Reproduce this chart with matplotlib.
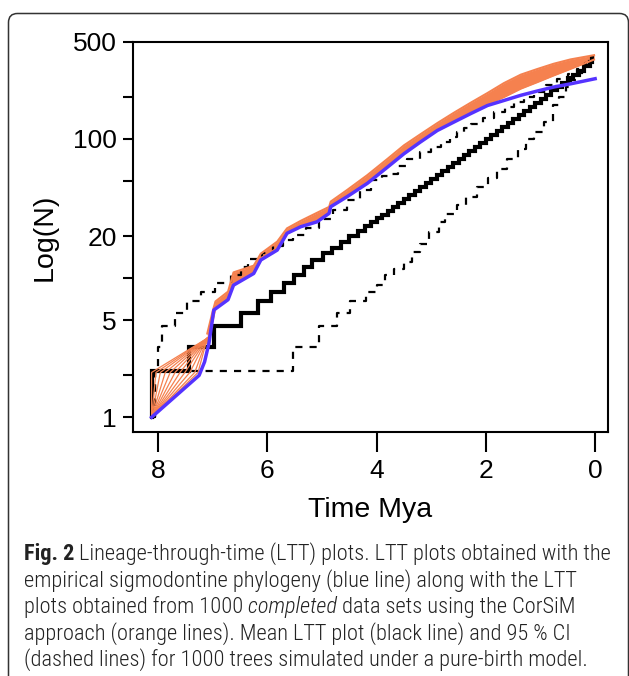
import matplotlib
matplotlib.use("Agg")
import matplotlib.pyplot as plt
from matplotlib import font_manager as fm
from matplotlib.patches import FancyBboxPatch
from matplotlib.ticker import NullLocator
from matplotlib.transforms import IdentityTransform

W, H = 629, 676
ORANGE = "#F5814F"
BLUE = "#5533FF"

# empirical sigmodontine phylogeny (blue line)
blue_t = [8.12, 7.25, 7.15, 7.07, 6.98, 6.72, 6.62, 6.25, 6.12, 5.82,
          5.64, 5.39, 5.09, 4.87, 4.84, 4.54, 4.17, 3.80, 3.50, 3.20,
          2.89, 2.59, 2.28, 1.97, 1.67, 1.36, 1.06, 0.76, 0.45, 0.0]
blue_n = [1, 2.0, 2.5, 3.4, 5.9, 7.0, 8.9, 10.8, 13.5, 15.9,
          21, 23.4, 25.4, 29.2, 32.6, 38.5, 48, 62.8, 78.3, 95,
          115, 132, 152, 174, 189, 206, 221, 236, 249, 271]

# CorSiM completed data sets (orange): time of 2nd lineage in the early fan
fan_t2 = [8.12, 8.04, 7.96, 7.87, 7.78, 7.69, 7.60, 7.51, 7.42, 7.33, 7.27]
# ... and the envelope of the orange band afterwards
band_t = [7.10, 7.00, 6.95, 6.72, 6.62, 6.25, 6.12, 5.82, 5.64, 5.39,
          5.09, 4.87, 4.84, 4.54, 4.17, 3.80, 3.50, 3.20, 2.89, 2.59,
          2.28, 1.97, 1.67, 1.36, 1.06, 0.76, 0.45, 0.02]
band_lo = [3.4, 5.0, 6.1, 7.2, 9.2, 11.1, 13.9, 16.4, 21.5, 24.0,
           26.0, 30.0, 33.5, 39.5, 50, 64, 80, 96, 117, 134,
           155, 178, 200, 230, 256, 286, 319, 372]
band_hi = [4.0, 5.8, 6.8, 8.0, 11.0, 12.3, 15.0, 18.3, 22.8, 25.8,
           29.5, 32.5, 35.5, 43, 55, 72, 90, 108, 130, 154,
           182, 214, 252, 290, 318, 347, 373, 400]

# pure-birth simulations: mean LTT (step plot)
mean_t = [8.12, 8.11, 7.44, 6.98, 6.49, 6.18, 5.94, 5.70, 5.51, 5.33,
          5.18, 4.99, 4.81, 4.66, 4.51, 4.35, 4.22, 4.10, 4.0, 3.9,
          3.8, 3.7, 3.6, 3.5, 3.4, 3.3, 3.2, 3.1, 3.0, 2.9,
          2.8, 2.7, 2.6, 2.5, 2.4, 2.3, 2.2, 2.1, 2.0, 1.9,
          1.8, 1.7, 1.6, 1.5, 1.4, 1.3, 1.2, 1.1, 1.0, 0.9,
          0.8, 0.7, 0.6, 0.5, 0.4, 0.3, 0.2, 0.1, 0.05]
mean_n = [1, 2.16, 3.2, 4.5, 5.6, 6.8, 8.0, 9.3, 10.5, 12.0,
          13.5, 15.1, 16.6, 18.3, 20.1, 21.9, 23.8, 25.5, 27, 28.5,
          30.3, 32.3, 34.5, 37, 39.5, 42, 45, 48, 51.5, 55,
          59, 63, 67, 72, 77, 82, 88, 94, 100, 107,
          114, 122, 131, 140, 149, 160, 170, 182, 195, 208,
          223, 238, 254, 272, 290, 310, 332, 355, 380]

# 95 % CI (dashed step plots)
ci_hi_t = [8.12, 8.05, 8.00, 7.93, 7.69, 7.48, 7.22, 6.95, 6.67, 6.49,
           6.35, 6.10, 5.90, 5.72, 5.54, 5.30, 5.05, 4.80, 4.55, 4.30,
           4.11, 3.90, 3.75, 3.60, 3.44, 3.20, 3.00, 2.83, 2.65, 2.52,
           2.40, 2.28, 2.05, 1.85, 1.65, 1.49, 1.30, 1.12, 0.90, 0.69,
           0.50, 0.33, 0.18, 0.05]
ci_hi_n = [1, 2.2, 3.2, 4.5, 5.6, 6.8, 8.0, 9.3, 10.5, 12.0,
           13.8, 15.2, 17.0, 18.8, 20.4, 23.0, 26.5, 31.0, 36.5, 43.0,
           51, 54, 56, 64, 72, 80, 88, 95, 104, 112,
           120, 129, 142, 156, 170, 184, 200, 217, 243, 271,
           295, 319, 350, 385]
ci_lo_t = [8.12, 8.05, 5.54, 5.06, 4.72, 4.48, 4.20, 3.99, 3.84, 3.68,
           3.50, 3.35, 3.20, 3.04, 2.86, 2.74, 2.52, 2.37, 2.16, 1.97,
           1.79, 1.61, 1.42, 1.27, 1.12, 0.94, 0.78, 0.66, 0.54, 0.45,
           0.33, 0.18, 0.05]
ci_lo_n = [1, 2.16, 3.2, 4.5, 5.6, 6.8, 8.0, 8.9, 10.5, 11.7,
           13.1, 15.4, 17.7, 21.4, 25.3, 29, 33.3, 38.3, 45, 52,
           61, 72, 85, 100, 112, 132, 174, 200, 235, 265,
           300, 340, 382]

yticks = [1, 2, 5, 10, 20, 50, 100, 200, 500]
ylabels = ["1", "", "5", "", "20", "", "100", "", "500"]
xticks = [8, 6, 4, 2, 0]

caption = [
    [("Fig. 2", {"weight": "bold"}), (" Lineage-through-time (LTT) plots. LTT plots obtained with the", {})],
    [("empirical sigmodontine phylogeny (blue line) along with the LTT", {})],
    [("plots obtained from 1000", {}), (" completed", {"style": "italic"}),
     (" data sets using the CorSiM", {})],
    [("approach (orange lines). Mean LTT plot (black line) and 95 % CI", {})],
    [("(dashed lines) for 1000 trees simulated under a pure-birth model.", {})],
]


def pick_caption_font():
    entries = fm.fontManager.ttflist
    names = {e.name for e in entries}
    for fam in ["Liberation Sans Narrow", "Roboto Condensed", "Open Sans Condensed",
                "Noto Sans Condensed", "Noto Sans SemiCondensed"]:
        if fam in names:
            return fam, "normal"
    for fam in ["Noto Sans", "Open Sans", "Roboto"]:
        stretches = {e.stretch for e in entries if e.name == fam}
        for want in ["condensed", "semi-condensed"]:
            if want in stretches:
                return fam, want
    return "Roboto", "normal"


plt.rcParams["font.family"] = ["Liberation Sans", "DejaVu Sans"]

fig = plt.figure(figsize=(W / 100, H / 100), dpi=100)
ax = fig.add_axes([133 / W, 1 - 432 / H, 474.7 / W, 390.3 / H])

ax.step(ci_hi_t, ci_hi_n, where="post", color="black", lw=1.6, ls=(0, (3.2, 3.2)))
ax.step(ci_lo_t, ci_lo_n, where="post", color="black", lw=1.6, ls=(0, (3.2, 3.2)))
ax.step(mean_t, mean_n, where="post", color="black", lw=3.0, solid_joinstyle="miter")

for t2 in fan_t2:
    ax.plot([8.12, t2, band_t[0]], [1, 2.1, 3.7], color=ORANGE, lw=0.9)
ax.fill_between(band_t, band_lo, band_hi, color=ORANGE, lw=0)
ax.plot(band_t, band_lo, color=ORANGE, lw=1.5)
ax.plot(band_t, band_hi, color=ORANGE, lw=1.5)

ax.plot(blue_t, blue_n, color=BLUE, lw=2.5)

ax.set_yscale("log")
ax.set_ylim(0.784, 500)
ax.set_xlim(8.46, -0.23)
ax.set_yticks(yticks)
ax.set_yticklabels(ylabels)
ax.yaxis.set_minor_locator(NullLocator())
ax.set_xticks(xticks)
ax.set_xticklabels([str(v) for v in xticks])
for s in ax.spines.values():
    s.set_linewidth(1.5)
ax.tick_params(axis="y", length=7.5, width=1.5, labelsize=19, pad=4)
ax.tick_params(axis="x", length=14.5, width=1.5, labelsize=19, pad=5)

fig.text(370 / W, 1 - 510 / H, "Time Mya", fontsize=20.5, ha="center", va="center")
fig.text(45 / W, 1 - 237 / H, "Log(N)", fontsize=20.5, rotation=90, ha="center", va="center")

# rounded frame, bottom runs off the image
frame = FancyBboxPatch((8.5, -30), 620, H - 13.5 + 30,
                       boxstyle="round,pad=0,rounding_size=9",
                       transform=IdentityTransform(), fill=False,
                       ec="#333333", lw=1.1)
fig.add_artist(frame)

cap_font, cap_stretch = pick_caption_font()
normal_weight = 300

renderer = fig.canvas.get_renderer()
probe = fig.text(0, 0, "".join(s for s, _ in caption[0]), fontsize=14, family=cap_font,
                 fontstretch=cap_stretch, weight=normal_weight)
cap_size = 14 * 586 / probe.get_window_extent(renderer=renderer).width
probe.remove()

baselines = [560, 586.5, 613, 639.5, 666]
for y, parts in zip(baselines, caption):
    x = 24
    for s, kw in parts:
        kw = {"weight": normal_weight, **kw}
        t = fig.text(x / W, 1 - y / H, s, fontsize=cap_size, family=cap_font,
                     fontstretch=cap_stretch, ha="left", va="baseline",
                     color="#222222", **kw)
        x += t.get_window_extent(renderer=renderer).width

fig.savefig("out.png", dpi=100)
